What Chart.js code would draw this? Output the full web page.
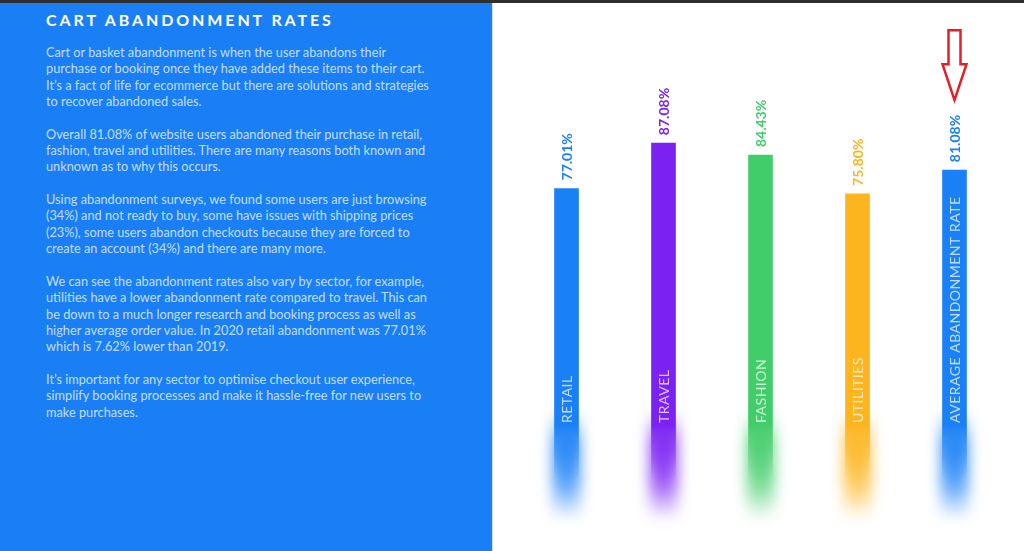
<!DOCTYPE html>
<html>
<head>
<meta charset="utf-8">
<script src="https://cdn.jsdelivr.net/npm/chart.js@4/dist/chart.umd.min.js"></script>
<style>
  html, body { margin: 0; padding: 0; width: 1024px; height: 551px; overflow: hidden; background: #fff; font-family: Lato, "Open Sans", sans-serif; }
  #topbar { position: absolute; left: 0; top: 0; width: 1024px; height: 3px; background: #2e2e2e; }
  #panel { position: absolute; left: 0; top: 3px; width: 492px; height: 548px; background: #1a7ff5; border-right: 1px solid #d9dde3; }
  #panel h1 { position: absolute; left: 46px; top: 7px; margin: 0; font-size: 16px; font-weight: 700; letter-spacing: 2.9px; color: #fff; white-space: nowrap; }
  #texto { position: absolute; left: 46px; top: 41px; font-size: 12.75px; line-height: 16.35px; color: rgba(255,255,255,0.74); white-space: nowrap; }
  #texto p { margin: 0 0 16.35px 0; }
  #grafica-wrap { position: absolute; left: 493px; top: 0; width: 531px; height: 551px; }
</style>
</head>
<body>
<div id="topbar"></div>
<div id="panel">
  <h1>CART ABANDONMENT RATES</h1>
  <div id="texto">
    <p>Cart or basket abandonment is when the user abandons their<br>purchase or booking once they have added these items to their cart.<br>It’s a fact of life for ecommerce but there are solutions and strategies<br>to recover abandoned sales.</p>
    <p>Overall 81.08% of website users abandoned their purchase in retail,<br>fashion, travel and utilities. There are many reasons both known and<br>unknown as to why this occurs.</p>
    <p>Using abandonment surveys, we found some users are just browsing<br>(34%) and not ready to buy, some have issues with shipping prices<br>(23%), some users abandon checkouts because they are forced to<br>create an account (34%) and there are many more.</p>
    <p>We can see the abandonment rates also vary by sector, for example,<br>utilities have a lower abandonment rate compared to travel. This can<br>be down to a much longer research and booking process as well as<br>higher average order value. In 2020 retail abandonment was 77.01%<br>which is 7.62% lower than 2019.</p>
    <p>It’s important for any sector to optimise checkout user experience,<br>simplify booking processes and make it hassle-free for new users to<br>make purchases.</p>
  </div>
</div>
<div id="grafica-wrap"><canvas id="grafica"></canvas></div>
<script>
const sectores = ['RETAIL', 'TRAVEL', 'FASHION', 'UTILITIES', 'AVERAGE ABANDONMENT RATE'];
const tasas = [77.01, 87.08, 84.43, 75.80, 81.08];
const colores = ['#1a80f6', '#7b22f2', '#42cd6b', '#fcb51f', '#1a80f6'];

function hexA(hex, a) {
    const n = parseInt(hex.slice(1), 16);
    return `rgba(${(n >> 16) & 255}, ${(n >> 8) & 255}, ${n & 255}, ${a})`;
}

// degradado: barra solida arriba, se desvanece abajo
function fondoBarra(context) {
    const area = context.chart.chartArea;
    const color = colores[context.dataIndex];
    if (!area) return color;
    const ctx = context.chart.ctx;
    const g = ctx.createLinearGradient(0, area.top, 0, area.bottom);
    const h = area.bottom - area.top;
    g.addColorStop(0, color);
    g.addColorStop((425 - area.top) / h, color);
    g.addColorStop((455 - area.top) / h, hexA(color, 0.5));
    g.addColorStop((480 - area.top) / h, hexA(color, 0));
    g.addColorStop(1, hexA(color, 0));
    return g;
}

const desenfoque = {
    id: 'desenfoque',
    beforeDatasetsDraw(chart) {
        const ctx = chart.ctx;
        const area = chart.chartArea;
        chart.getDatasetMeta(0).data.forEach((bar, i) => {
            ctx.save();
            ctx.filter = 'blur(7px)';
            const top = area.bottom - 125;
            const g = ctx.createLinearGradient(0, top, 0, area.bottom - 15);
            g.addColorStop(0, hexA(colores[i], 0));
            g.addColorStop(0.3, hexA(colores[i], 0.8));
            g.addColorStop(0.65, hexA(colores[i], 0.75));
            g.addColorStop(1, hexA(colores[i], 0));
            ctx.fillStyle = g;
            ctx.fillRect(bar.x - 14, top, 28, 110);
            ctx.restore();
        });
    },
    afterDatasetsDraw(chart) {
        const ctx = chart.ctx;
        const area = chart.chartArea;
        chart.getDatasetMeta(0).data.forEach((bar, i) => {
            // valor encima de la barra
            ctx.save();
            ctx.translate(bar.x + 1, bar.y - 8);
            ctx.rotate(-Math.PI / 2);
            ctx.font = '700 14px Lato, "Open Sans", sans-serif';
            ctx.fillStyle = colores[i];
            ctx.textAlign = 'left';
            ctx.textBaseline = 'middle';
            ctx.fillText(tasas[i].toFixed(2) + '%', 0, 0);
            ctx.restore();
            // nombre dentro de la barra
            ctx.save();
            ctx.translate(bar.x + 1, area.bottom - 112);
            ctx.rotate(-Math.PI / 2);
            ctx.font = '400 14px Lato, "Open Sans", sans-serif';
            ctx.letterSpacing = '0.5px';
            ctx.fillStyle = 'rgba(255,255,255,0.72)';
            ctx.textAlign = 'left';
            ctx.textBaseline = 'middle';
            ctx.fillText(sectores[i], 0, 0);
            ctx.restore();
        });
        // flecha roja sobre el promedio
        const ult = chart.getDatasetMeta(0).data[sectores.length - 1];
        const x = ult.x;
        const punta = ult.y - 70;
        ctx.save();
        ctx.strokeStyle = '#e81e25';
        ctx.lineWidth = 2.5;
        ctx.fillStyle = '#fff';
        ctx.beginPath();
        ctx.moveTo(x - 6, punta - 70);
        ctx.lineTo(x + 6, punta - 70);
        ctx.lineTo(x + 6, punta - 36);
        ctx.lineTo(x + 12, punta - 36);
        ctx.lineTo(x, punta);
        ctx.lineTo(x - 12, punta - 36);
        ctx.lineTo(x - 6, punta - 36);
        ctx.closePath();
        ctx.fill();
        ctx.stroke();
        ctx.restore();
    }
};

new Chart(document.getElementById('grafica'), {
    type: 'bar',
    data: {
        labels: sectores,
        datasets: [{
            data: tasas,
            backgroundColor: fondoBarra,
            borderWidth: 0,
            barThickness: 24
        }]
    },
    options: {
        responsive: true,
        maintainAspectRatio: false,
        animation: false,
        layout: { padding: { left: 25, right: 21, top: 85, bottom: 16 } },
        plugins: { legend: { display: false }, tooltip: { enabled: false } },
        scales: {
            x: { display: false },
            y: { display: false, min: 0, max: 100 }
        }
    },
    plugins: [desenfoque]
});
</script>
</body>
</html>
